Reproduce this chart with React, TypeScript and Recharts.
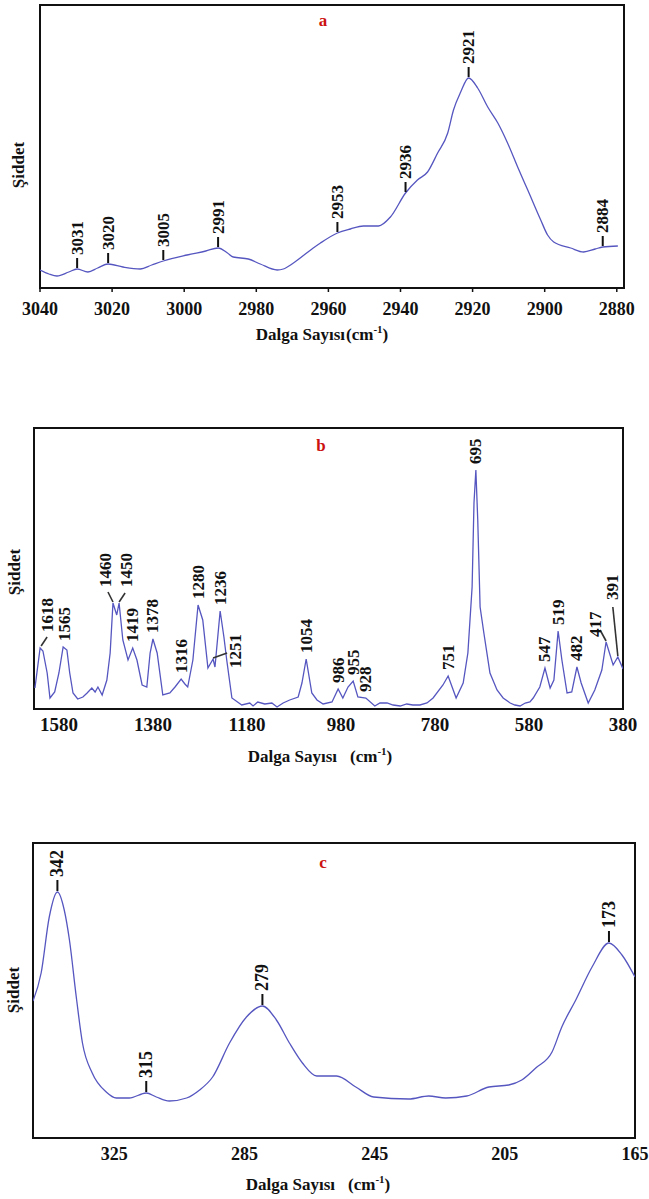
import React from 'react';
import { LineChart, Line, XAxis, YAxis, ReferenceArea, ReferenceDot } from 'recharts';

const SERIF = '"Liberation Serif", "Times New Roman", serif';
const LINE_COLOR = '#5656c0';
const RED = '#cc1111';

// ---------- Panel a (3040 - 2880 cm-1) ----------
const A_WN = [3040, 3037.5, 3035.3, 3032, 3029.7, 3026.7, 3024, 3021.1, 3017, 3012.2,
  3009, 3005.8, 2999.2, 2994, 2990.6, 2988, 2986.4, 2982.2, 2978.9, 2974.2,
  2972.5, 2969.7, 2964.2, 2962.2, 2957.5, 2953.9, 2950.3, 2946.1, 2942.8, 2938.6,
  2935.3, 2932.5, 2929.7, 2926.9, 2925.3, 2923.3, 2921.1, 2918.6, 2915.8, 2913,
  2910.3, 2907.5, 2904.7, 2901.1, 2899.2, 2897.5, 2892.8, 2889.2, 2886, 2883.9, 2879.7];
const A_INT = [18, 14, 12, 16, 19, 16, 20, 24, 21, 19,
  23, 27, 33, 37, 40, 35, 31, 29, 24, 18,
  19, 25, 40, 45, 55, 59, 62, 62, 71, 95,
  108, 116, 135, 155, 178, 196, 210, 200, 181, 165,
  145, 121, 98, 68, 53, 46, 40, 36, 39, 41, 42];
const A_TICKS = [3040, 3020, 3000, 2980, 2960, 2940, 2920, 2900, 2880];
const A_PEAK_LABELS = ['3031', '3020', '3005', '2991', '2953', '2936', '2921', '2884'];
const A_PEAK_WN = [3029.7, 3021.1, 3005.8, 2990.6, 2957.5, 2938.6, 2921.1, 2883.9];
const A_PEAK_INT = [19, 24, 27, 40, 55, 95, 210, 41];

// ---------- Panel b (1633 - 380 cm-1) ----------
const B_WN = [1631, 1620, 1614, 1605, 1599, 1589, 1580, 1571, 1563, 1557,
  1550, 1540, 1529, 1520, 1510, 1503, 1497, 1488, 1478, 1471,
  1465, 1457, 1452, 1444, 1433, 1423, 1414, 1403, 1393, 1386,
  1380, 1371, 1359, 1344, 1333, 1320, 1312, 1306, 1295, 1284,
  1274, 1263, 1252, 1248, 1237, 1229, 1223, 1212, 1191, 1174,
  1167, 1157, 1142, 1127, 1116, 1103, 1089, 1071, 1063, 1054,
  1042, 1031, 1018, 999, 986, 976, 965, 954, 944, 927,
  908, 897, 882, 869, 854, 840, 827, 812, 797, 784,
  763, 752, 735, 720, 710, 701, 697, 693, 689, 684,
  680, 676, 663, 648, 635, 620, 610, 599, 588, 578,
  571, 557, 546, 535, 527, 518, 510, 499, 489, 478,
  469, 454, 440, 425, 416, 401, 391, 380];
const B_INT = [21, 61, 58, 36, 11, 17, 36, 62, 59, 36,
  16, 10, 12, 16, 21, 17, 22, 14, 29, 56,
  106, 94, 106, 69, 49, 61, 49, 24, 22, 56,
  70, 56, 14, 16, 22, 30, 25, 22, 49, 104,
  89, 41, 50, 42, 98, 72, 49, 11, 4, 6,
  3, 7, 5, 6, 2, 6, 9, 12, 26, 50,
  16, 9, 5, 7, 20, 11, 22, 28, 12, 11,
  3, 6, 6, 4, 3, 5, 4, 4, 6, 11,
  24, 33, 11, 26, 56, 122, 206, 239, 189, 102,
  89, 76, 36, 19, 11, 6, 4, 3, 6, 7,
  11, 22, 41, 21, 29, 78, 49, 16, 17, 42,
  26, 6, 19, 39, 67, 44, 52, 40];
const B_TICKS = [1580, 1380, 1180, 980, 780, 580, 380];
const B_PEAK_LABELS = ['1618', '1565', '1460', '1450', '1419', '1378', '1316', '1280', '1251', '1236',
  '1054', '986', '955', '928', '751', '695', '547', '519', '482', '417', '391'];
const B_PEAK_WN = [1620, 1568, 1465, 1452, 1423, 1380, 1320, 1284, 1252, 1237,
  1054, 986, 954, 927, 752, 693, 546, 518, 478, 416, 391];
const B_PEAK_INT = [61, 62, 106, 106, 61, 70, 30, 104, 50, 98,
  50, 20, 28, 11, 33, 239, 41, 78, 42, 67, 52];

// leader lines for crowded labels in panel b (offsets from the peak, px)
const B_LEADERS: Record<string, { line: number[]; text: number[] }> = {
  '1618': { line: [1, -2, 7, -11], text: [7, -16] },
  '1460': { line: [0, -1, -5, -11], text: [-7, -16] },
  '1450': { line: [0, -1, 6, -10], text: [7, -16] },
  '1251': { line: [0, -1, 14, -6], text: [22, 9] },
  '417': { line: [0, -1, -6, -12], text: [-11, -5] },
  '391': { line: [0, -1, -5, -50], text: [-5, -57] },
};

// ---------- Panel c (350 - 165 cm-1) ----------
const C_WN = [350, 347.5, 345, 342.5, 340.4, 338.8, 336.7, 334.8, 331.8, 327.5,
  324.4, 320.4, 315.2, 312.1, 308.1, 302.8, 298.8, 294.8, 289.6, 284.4,
  279.5, 275.2, 271.2, 267.2, 262.8, 256.7, 250.8, 245.3, 234.5, 228.4,
  223.2, 216.7, 209.9, 203.8, 199.8, 195.5, 190.5, 187.5, 183.2, 178.2,
  173, 169, 165];
const C_INT = [137, 165, 221, 246, 228, 198, 141, 95, 65, 46,
  40, 40, 45, 41, 37, 40, 48, 61, 95, 121,
  132, 118, 95, 75, 62, 62, 51, 41, 39, 42,
  40, 42, 51, 53, 58, 70, 86, 111, 138, 171,
  195, 183, 161];
const C_TICKS = [325, 285, 245, 205, 165];
const C_PEAK_LABELS = ['342', '315', '279', '173'];
const C_PEAK_WN = [342.5, 315.2, 279.5, 173];
const C_PEAK_INT = [246, 45, 132, 195];

type Pt = { wn: number; v: number };
type Peak = { wn: number; v: number; text: string };

const zip = (wn: number[], v: number[]): Pt[] => wn.map((w, i) => ({ wn: w, v: v[i] }));
const peaks = (labels: string[], wn: number[], v: number[]): Peak[] =>
  labels.map((t, i) => ({ text: t, wn: wn[i], v: v[i] }));

function PeakMark(props: any) {
  const { cx, cy, text, kind, fontSize, leader, tickLen } = props;
  if (cx == null || cy == null || isNaN(cx) || isNaN(cy)) return null;
  let tx = cx;
  let ty = cy - 6;
  let extra: any = null;
  if (leader) {
    const [x1, y1, x2, y2] = leader.line;
    extra = <line x1={cx + x1} y1={cy + y1} x2={cx + x2} y2={cy + y2} stroke="#333" strokeWidth={1.6} />;
    tx = cx + leader.text[0];
    ty = cy + leader.text[1];
  } else if (kind === 'tick') {
    extra = <line x1={cx} y1={cy - 1} x2={cx} y2={cy - tickLen} stroke="#111" strokeWidth={2} />;
    ty = cy - tickLen - 3;
  }
  return (
    <g>
      {extra}
      <text
        x={tx}
        y={ty}
        transform={`rotate(-90 ${tx} ${ty})`}
        textAnchor="start"
        dominantBaseline="central"
        style={{ fontFamily: SERIF, fontWeight: 700, fontSize, fill: '#111' }}
      >
        {text}
      </text>
    </g>
  );
}

type PanelProps = {
  top: number;
  height: number;
  margin: { top: number; right: number; left: number; bottom: number };
  xDomain: [number, number];
  yMax: number;
  ticks: number[];
  data: Pt[];
  marks: Peak[];
  curve: 'monotone' | 'linear';
  axisHeight: number;
  tickSize: number;
  tickMargin: number;
  tickFont: number;
  markKind: 'tick' | 'text';
  markFont: number;
  tickLen?: number;
  leaders?: Record<string, { line: number[]; text: number[] }>;
};

function Panel(p: PanelProps) {
  return (
    <div style={{ position: 'absolute', left: 0, top: p.top, width: 649, height: p.height }}>
      <LineChart width={649} height={p.height} data={p.data} margin={p.margin}>
        <XAxis
          dataKey="wn"
          type="number"
          domain={p.xDomain}
          allowDataOverflow
          reversed
          ticks={p.ticks}
          interval={0}
          height={p.axisHeight}
          axisLine={false}
          tickLine={p.tickSize > 0 ? { stroke: '#111', strokeWidth: 1.5 } : false}
          tickSize={p.tickSize}
          tickMargin={p.tickMargin}
          tick={{ fontFamily: SERIF, fontWeight: 700, fontSize: p.tickFont, fill: '#111' }}
        />
        <YAxis hide type="number" domain={[0, p.yMax]} allowDataOverflow />
        <ReferenceArea
          x1={p.xDomain[0]}
          x2={p.xDomain[1]}
          y1={0}
          y2={p.yMax}
          fill="none"
          stroke="#111"
          strokeWidth={2}
          ifOverflow="visible"
        />
        <Line
          dataKey="v"
          type={p.curve}
          stroke={LINE_COLOR}
          strokeWidth={1.3}
          dot={false}
          activeDot={false}
          isAnimationActive={false}
        />
        {p.marks.map((m) => (
          <ReferenceDot
            key={m.text}
            x={m.wn}
            y={m.v}
            r={0}
            ifOverflow="visible"
            shape={(sp: any) => (
              <PeakMark
                cx={sp.cx}
                cy={sp.cy}
                text={m.text}
                kind={p.markKind}
                fontSize={p.markFont}
                tickLen={p.tickLen}
                leader={p.leaders ? p.leaders[m.text] : undefined}
              />
            )}
          />
        ))}
      </LineChart>
    </div>
  );
}

const centerText = (x: number, y: number, extra: React.CSSProperties = {}): React.CSSProperties => ({
  position: 'absolute',
  left: x,
  top: y,
  transform: 'translate(-50%, -50%)',
  fontFamily: SERIF,
  fontWeight: 700,
  whiteSpace: 'pre',
  lineHeight: 1,
  color: '#111',
  ...extra,
});

function AxisTitle({ x, baseline, gap }: { x: number; baseline: number; gap: number }) {
  return (
    <div
      style={{
        position: 'absolute',
        left: x,
        top: baseline - 14,
        transform: 'translateX(-50%)',
        fontFamily: SERIF,
        fontWeight: 700,
        fontSize: 17,
        lineHeight: 1,
        whiteSpace: 'pre',
        color: '#111',
      }}
    >
      Dalga Sayısı
      <span style={{ marginLeft: gap }}>(cm</span>
      <span style={{ fontSize: 11, position: 'relative', top: -7 }}>-1</span>)
    </div>
  );
}

export default function App() {
  const dataA = zip(A_WN, A_INT);
  const dataB = zip(B_WN, B_INT);
  const dataC = zip(C_WN, C_INT);
  return (
    <div style={{ position: 'absolute', left: 0, top: 0, width: 649, height: 1199, background: '#fff', overflow: 'hidden' }}>
      <Panel
        top={0}
        height={320}
        margin={{ top: 5, right: 25, left: 40, bottom: 0 }}
        xDomain={[2878, 3040]}
        yMax={283}
        ticks={A_TICKS}
        data={dataA}
        marks={peaks(A_PEAK_LABELS, A_PEAK_WN, A_PEAK_INT)}
        curve="monotone"
        axisHeight={32}
        tickSize={4}
        tickMargin={10}
        tickFont={18}
        markKind="tick"
        markFont={17}
        tickLen={11}
      />
      <Panel
        top={400}
        height={340}
        margin={{ top: 28, right: 26, left: 34, bottom: 0 }}
        xDomain={[380, 1633]}
        yMax={281}
        ticks={B_TICKS}
        data={dataB}
        marks={peaks(B_PEAK_LABELS, B_PEAK_WN, B_PEAK_INT)}
        curve="linear"
        axisHeight={31}
        tickSize={0}
        tickMargin={9}
        tickFont={19}
        markKind="text"
        markFont={17}
        leaders={B_LEADERS}
      />
      <Panel
        top={820}
        height={350}
        margin={{ top: 23, right: 14, left: 33, bottom: 0 }}
        xDomain={[165, 350]}
        yMax={295}
        ticks={C_TICKS}
        data={dataC}
        marks={peaks(C_PEAK_LABELS, C_PEAK_WN, C_PEAK_INT)}
        curve="monotone"
        axisHeight={32}
        tickSize={0}
        tickMargin={9}
        tickFont={18}
        markKind="tick"
        markFont={18}
        tickLen={12}
      />

      {/* panel letters */}
      <div style={centerText(323, 20, { color: RED, fontSize: 17 })}>a</div>
      <div style={centerText(321, 445, { color: RED, fontSize: 17 })}>b</div>
      <div style={centerText(323, 862, { color: RED, fontSize: 17 })}>c</div>

      {/* y-axis titles */}
      <div style={centerText(18, 165, { fontSize: 17, transform: 'translate(-50%, -50%) rotate(-90deg)' })}>Şiddet</div>
      <div style={centerText(14, 572, { fontSize: 17, transform: 'translate(-50%, -50%) rotate(-90deg)' })}>Şiddet</div>
      <div style={centerText(13, 990, { fontSize: 17, transform: 'translate(-50%, -50%) rotate(-90deg)' })}>Şiddet</div>

      {/* x-axis titles */}
      <AxisTitle x={322} baseline={340} gap={1} />
      <AxisTitle x={320} baseline={762} gap={13} />
      <AxisTitle x={318} baseline={1190} gap={13} />
    </div>
  );
}
